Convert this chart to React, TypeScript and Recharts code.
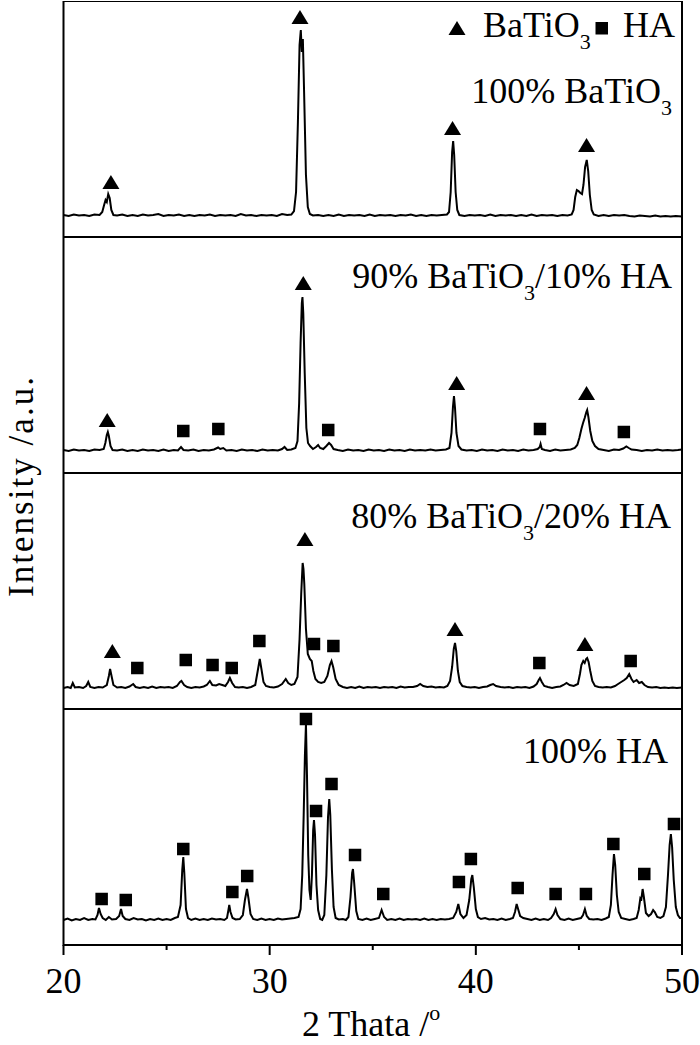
import { ComposedChart, Line, Scatter, XAxis, YAxis, ReferenceArea } from "recharts";

type Pt = [number, number];

// 2θ (deg) vs intensity (a.u.)
const bto100: Pt[] = [
  [20.0, 22], [20.25, 21], [20.5, 22.5], [20.75, 21.5], [21.0, 22], [21.25, 21], [21.5, 22.5], [21.75, 22],
  [21.88, 25], [21.97, 32], [22.04, 37], [22.1, 35], [22.17, 43], [22.24, 39], [22.32, 27], [22.42, 22],
  [22.6, 21.5], [22.85, 22.5], [23.1, 21], [23.35, 22], [23.6, 21], [23.85, 22.5], [24.1, 21.5], [24.35, 22],
  [24.6, 23], [24.85, 21], [25.1, 22], [25.35, 21.5], [25.6, 22.5], [25.85, 21], [26.1, 22], [26.35, 21],
  [26.6, 22], [26.85, 21.5], [27.1, 22.5], [27.35, 21], [27.6, 22], [27.85, 21.5], [28.1, 22], [28.35, 21],
  [28.6, 23], [28.85, 21.5], [29.1, 22], [29.35, 21], [29.6, 22], [29.85, 21.5], [30.1, 22], [30.35, 21],
  [30.6, 23], [30.85, 22], [31.05, 22.5], [31.18, 26], [31.28, 45], [31.37, 115], [31.45, 192], [31.51, 207],
  [31.56, 185], [31.61, 198], [31.67, 145], [31.76, 62], [31.85, 30], [31.95, 23], [32.1, 21.5], [32.35, 22],
  [32.6, 21], [32.85, 22], [33.1, 21], [33.35, 22.5], [33.6, 21], [33.85, 22], [34.1, 21.5], [34.35, 22],
  [34.6, 21], [34.85, 22.5], [35.1, 21], [35.35, 22], [35.6, 21.5], [35.85, 22], [36.1, 21], [36.35, 22],
  [36.6, 21.5], [36.85, 22.5], [37.1, 21], [37.35, 22], [37.6, 21], [37.85, 22], [38.1, 21.5], [38.35, 22],
  [38.6, 22.5], [38.7, 25], [38.78, 45], [38.85, 85], [38.9, 96], [38.95, 82], [39.02, 45], [39.1, 27],
  [39.2, 22], [39.45, 21], [39.7, 22], [39.95, 21.5], [40.2, 22], [40.45, 21], [40.7, 22.5], [40.95, 21],
  [41.2, 22], [41.45, 21.5], [41.7, 22], [41.95, 21], [42.2, 22], [42.45, 21], [42.7, 22.5], [42.95, 21],
  [43.2, 22], [43.45, 21.5], [43.7, 22], [43.95, 21], [44.2, 22], [44.45, 21.5], [44.65, 22.5], [44.74, 27],
  [44.82, 40], [44.9, 47], [44.98, 46], [45.07, 44], [45.15, 43], [45.22, 52], [45.3, 70], [45.38, 77],
  [45.45, 66], [45.53, 42], [45.62, 27], [45.72, 22.5], [45.95, 21], [46.2, 22], [46.45, 21], [46.7, 22],
  [46.95, 21.5], [47.2, 22], [47.45, 21], [47.7, 20.5], [47.95, 21.5], [48.2, 21], [48.45, 20.5], [48.7, 21.5],
  [48.95, 20.5], [49.2, 21], [49.45, 20.5], [49.7, 21], [50.0, 20.5],
];

const bto90: Pt[] = [
  [20.0, 23], [20.25, 22], [20.5, 23.5], [20.75, 22.5], [21.0, 23], [21.25, 22], [21.5, 23.5], [21.75, 23],
  [21.95, 24], [22.03, 30], [22.1, 38], [22.15, 41], [22.2, 37], [22.28, 27], [22.38, 23], [22.6, 22.5],
  [22.85, 23.5], [23.1, 22], [23.35, 23], [23.6, 22], [23.85, 23.5], [24.1, 22.5], [24.35, 23], [24.6, 22],
  [24.85, 23.5], [25.1, 22], [25.35, 23], [25.55, 22.5], [25.7, 26], [25.82, 23], [26.05, 22.5], [26.3, 23.5],
  [26.55, 22], [26.8, 23], [27.05, 22.5], [27.3, 23.5], [27.5, 25.5], [27.6, 24], [27.75, 25], [27.9, 22.5],
  [28.15, 23], [28.4, 22], [28.65, 23.5], [28.9, 22.5], [29.15, 23], [29.4, 22], [29.65, 23.5], [29.9, 22.5],
  [30.15, 23], [30.4, 22.5], [30.6, 24], [30.72, 26], [30.85, 23], [31.05, 23.5], [31.25, 25], [31.35, 32],
  [31.43, 70], [31.5, 130], [31.56, 170], [31.59, 176], [31.63, 160], [31.7, 100], [31.78, 45], [31.86, 30],
  [31.96, 27], [32.1, 24], [32.25, 26], [32.35, 28], [32.45, 25], [32.6, 24], [32.75, 27], [32.88, 30],
  [32.98, 28], [33.1, 24], [33.3, 23], [33.55, 22], [33.8, 23.5], [34.05, 22.5], [34.3, 23], [34.55, 22],
  [34.8, 23.5], [35.05, 22.5], [35.3, 23], [35.55, 22], [35.8, 23.5], [36.05, 22.5], [36.3, 23], [36.55, 22],
  [36.8, 23.5], [37.05, 22.5], [37.3, 23], [37.55, 22.5], [37.8, 23.5], [38.05, 22.5], [38.3, 23], [38.55, 23.5],
  [38.72, 25], [38.82, 40], [38.89, 66], [38.94, 77], [38.99, 65], [39.06, 40], [39.16, 27], [39.3, 23.5],
  [39.55, 22.5], [39.8, 23], [40.05, 22], [40.3, 23.5], [40.55, 22.5], [40.8, 23], [41.05, 22], [41.3, 23.5],
  [41.55, 22.5], [41.8, 23], [42.05, 22], [42.3, 23.5], [42.55, 22.5], [42.8, 23], [43.0, 24], [43.1, 26],
  [43.14, 29], [43.2, 24], [43.35, 23], [43.6, 22], [43.85, 23.5], [44.1, 22.5], [44.35, 23], [44.6, 23.5],
  [44.8, 25], [44.92, 28], [45.02, 35], [45.12, 44], [45.2, 50], [45.28, 55], [45.36, 61], [45.4, 63],
  [45.46, 56], [45.55, 42], [45.65, 32], [45.78, 27], [45.95, 24], [46.2, 23], [46.45, 22], [46.7, 23.5],
  [46.95, 23], [47.15, 24.5], [47.3, 26.5], [47.42, 25], [47.55, 23.5], [47.8, 23], [48.05, 22], [48.3, 23],
  [48.55, 22.5], [48.8, 23.5], [49.05, 22.5], [49.3, 23], [49.55, 22.5], [49.8, 23], [50.0, 23.5],
];

const bto80: Pt[] = [
  [20.0, 21], [20.2, 22], [20.35, 21], [20.45, 26], [20.55, 21.5], [20.75, 22], [20.95, 21], [21.1, 23],
  [21.2, 27], [21.3, 22], [21.5, 21], [21.7, 22], [21.9, 21.5], [22.1, 24], [22.2, 33], [22.26, 40],
  [22.32, 34], [22.42, 24], [22.6, 21.5], [22.8, 22], [23.0, 21], [23.2, 22.5], [23.38, 25], [23.5, 22],
  [23.7, 21], [23.9, 22], [24.1, 21], [24.3, 22.5], [24.5, 21], [24.7, 22], [24.9, 21.5], [25.1, 22],
  [25.3, 21], [25.5, 23], [25.65, 27], [25.72, 28], [25.85, 24], [26.0, 22], [26.2, 21], [26.4, 22],
  [26.6, 21.5], [26.8, 22.5], [26.95, 24], [27.1, 28], [27.22, 24], [27.4, 23.5], [27.55, 25], [27.7, 24],
  [27.85, 23], [27.98, 27], [28.07, 31], [28.18, 26], [28.32, 22], [28.5, 21.5], [28.7, 22], [28.9, 21],
  [29.1, 22], [29.3, 24], [29.42, 38], [29.52, 50], [29.6, 40], [29.7, 27], [29.82, 23], [30.0, 22],
  [30.2, 21.5], [30.4, 22.5], [30.6, 25], [30.78, 30], [30.9, 26], [31.05, 24], [31.2, 25], [31.35, 32],
  [31.45, 70], [31.53, 115], [31.6, 146], [31.64, 140], [31.68, 125], [31.76, 80], [31.85, 55], [31.95, 50],
  [32.04, 48], [32.12, 38], [32.22, 30], [32.35, 27], [32.5, 26], [32.65, 27], [32.8, 33], [32.92, 44],
  [33.0, 48], [33.08, 42], [33.2, 30], [33.35, 24], [33.55, 22], [33.75, 21], [33.95, 22], [34.15, 21],
  [34.35, 22.5], [34.55, 21], [34.75, 22], [34.95, 21.5], [35.15, 22], [35.35, 21], [35.55, 22], [35.75, 21.5],
  [35.95, 22], [36.15, 21], [36.35, 22.5], [36.55, 21.5], [36.75, 22], [36.95, 22], [37.15, 23], [37.3, 25],
  [37.45, 23], [37.65, 22], [37.85, 22.5], [38.05, 21.5], [38.25, 22], [38.45, 21.5], [38.62, 23], [38.75, 28],
  [38.85, 42], [38.93, 60], [38.99, 66], [39.05, 58], [39.13, 38], [39.22, 27], [39.35, 23], [39.55, 22],
  [39.75, 21.5], [39.95, 22], [40.15, 21], [40.35, 22], [40.55, 22.5], [40.7, 24], [40.84, 25], [40.98, 23],
  [41.2, 22], [41.4, 21.5], [41.6, 22], [41.8, 21], [42.0, 22], [42.2, 21.5], [42.4, 22], [42.6, 21],
  [42.8, 22.5], [42.95, 25], [43.05, 29], [43.11, 31], [43.2, 27], [43.32, 23], [43.5, 22], [43.7, 21],
  [43.9, 22], [44.1, 22.5], [44.25, 24], [44.4, 26], [44.55, 24], [44.75, 23], [44.95, 25], [45.05, 35],
  [45.12, 44], [45.21, 48], [45.28, 46], [45.35, 50], [45.4, 51], [45.47, 47], [45.55, 38], [45.65, 28],
  [45.78, 23], [45.95, 22], [46.15, 21.5], [46.35, 22], [46.55, 21.5], [46.75, 23], [46.9, 25], [47.05, 27],
  [47.2, 29], [47.32, 31], [47.44, 35], [47.55, 30], [47.65, 27], [47.8, 29], [47.92, 26], [48.05, 27],
  [48.18, 24], [48.35, 22], [48.55, 21.5], [48.75, 22], [48.95, 21], [49.15, 21.5], [49.35, 21], [49.55, 21.5],
  [49.75, 21], [50.0, 21.5],
];

const ha100: Pt[] = [
  [20.0, 25], [20.2, 26.5], [20.4, 24.5], [20.6, 26], [20.8, 25], [21.0, 27], [21.2, 25], [21.4, 26],
  [21.55, 25.5], [21.65, 30], [21.72, 37], [21.8, 31], [21.9, 27], [22.05, 25], [22.2, 28], [22.35, 25.5],
  [22.55, 26], [22.7, 29], [22.79, 36], [22.87, 29], [23.0, 26], [23.2, 25], [23.4, 27], [23.6, 25.5],
  [23.8, 26], [24.0, 24.5], [24.2, 26], [24.4, 25], [24.6, 26.5], [24.8, 25], [25.0, 26], [25.2, 25],
  [25.4, 27], [25.55, 28], [25.68, 40], [25.76, 75], [25.81, 88], [25.86, 72], [25.94, 36], [26.04, 27],
  [26.2, 25], [26.4, 26.5], [26.6, 25], [26.8, 26], [27.0, 25], [27.2, 26.5], [27.4, 25.5], [27.6, 26],
  [27.8, 25], [27.93, 27], [28.0, 35], [28.04, 40], [28.1, 33], [28.2, 27], [28.35, 25.5], [28.55, 26],
  [28.7, 30], [28.8, 45], [28.9, 56], [28.97, 47], [29.07, 31], [29.2, 26], [29.4, 25], [29.6, 26.5],
  [29.8, 25], [30.0, 26], [30.2, 25], [30.4, 26.5], [30.6, 25.5], [30.8, 26], [31.0, 26.5], [31.2, 27],
  [31.4, 28], [31.5, 36], [31.58, 70], [31.65, 130], [31.71, 190], [31.76, 221], [31.81, 170], [31.87, 90],
  [31.93, 55], [31.99, 45], [32.05, 70], [32.11, 115], [32.15, 125], [32.2, 110], [32.27, 60], [32.35, 35],
  [32.45, 26], [32.55, 25], [32.65, 30], [32.75, 70], [32.83, 128], [32.89, 146], [32.94, 130], [33.02, 75],
  [33.1, 38], [33.2, 27], [33.35, 25.5], [33.55, 26], [33.7, 25], [33.82, 28], [33.92, 48], [34.0, 72],
  [34.04, 76], [34.1, 62], [34.2, 34], [34.3, 26], [34.5, 25], [34.7, 26.5], [34.9, 25], [35.1, 26],
  [35.3, 27], [35.43, 35], [35.55, 28], [35.7, 25], [35.9, 26], [36.1, 25], [36.3, 26.5], [36.5, 25],
  [36.7, 26], [36.9, 25.5], [37.1, 26], [37.3, 25], [37.5, 26.5], [37.7, 25], [37.9, 26], [38.1, 25],
  [38.3, 26], [38.5, 25.5], [38.7, 26], [38.9, 27], [39.05, 33], [39.15, 41], [39.25, 31], [39.4, 27],
  [39.55, 30], [39.68, 45], [39.78, 66], [39.83, 70], [39.9, 58], [40.0, 36], [40.1, 28], [40.25, 26],
  [40.45, 27], [40.65, 25.5], [40.85, 26], [41.05, 25], [41.25, 26.5], [41.45, 25], [41.65, 26], [41.8, 27],
  [41.9, 33], [41.98, 41], [42.05, 36], [42.15, 29], [42.3, 27], [42.5, 26], [42.7, 25], [42.9, 26.5],
  [43.1, 25], [43.3, 26], [43.5, 25], [43.65, 27], [43.78, 31], [43.87, 36], [43.96, 30], [44.1, 26],
  [44.3, 25], [44.5, 26.5], [44.7, 25], [44.9, 26], [45.1, 27], [45.2, 30], [45.29, 36], [45.38, 29],
  [45.5, 26], [45.7, 25.5], [45.9, 26], [46.1, 25], [46.3, 26.5], [46.45, 28], [46.55, 40], [46.63, 70],
  [46.7, 91], [46.76, 80], [46.84, 50], [46.93, 33], [47.05, 27], [47.25, 26], [47.45, 25], [47.65, 26],
  [47.8, 27], [47.9, 35], [47.98, 47], [48.03, 46], [48.09, 56], [48.15, 48], [48.25, 32], [48.38, 29],
  [48.5, 31], [48.6, 35], [48.68, 33], [48.8, 28], [48.95, 27], [49.1, 29], [49.22, 38], [49.32, 70],
  [49.4, 100], [49.46, 111], [49.52, 98], [49.6, 65], [49.7, 38], [49.8, 30], [49.9, 27], [50.0, 27],
];

// phase markers (2θ, height) — ▲ BaTiO3, ■ HA
const bto100Tri: Pt[] = [[22.3, 55], [31.47, 220], [38.87, 109], [45.37, 92]];
const bto100Sq: Pt[] = [];
const bto90Tri: Pt[] = [[22.12, 53], [31.63, 190], [39.07, 90], [45.37, 80]];
const bto90Sq: Pt[] = [[25.81, 42], [27.51, 44], [32.84, 43], [43.11, 44], [47.18, 41]];
const bto80Tri: Pt[] = [[22.37, 58], [31.71, 170], [38.99, 80], [45.29, 65]];
const bto80Sq: Pt[] = [
  [23.58, 41], [25.93, 49], [27.23, 44], [28.16, 41], [29.5, 68], [32.15, 65], [33.09, 63], [43.08, 46], [47.51, 48],
];
const ha100Tri: Pt[] = [];
const ha100Sq: Pt[] = [
  [21.85, 46], [23.02, 45], [25.81, 96], [28.19, 53], [28.91, 69], [31.76, 226], [32.25, 134], [33.0, 161],
  [34.14, 90], [35.51, 51], [39.18, 63], [39.76, 86], [42.03, 57], [43.87, 51], [45.34, 51], [46.67, 101],
  [48.17, 71], [49.61, 121],
];

const xTicks = [20, 25, 30, 35, 40, 45, 50];

const FONT = "'Liberation Serif', 'Times New Roman', Times, serif";
const W = 700;
const PLOT_H = 236;
const X_AXIS_H = 100;
const MARGIN = { top: 0, right: 18, bottom: 0, left: 63.5 };

const rows = (pts: Pt[]) => pts.map(([t, i]) => ({ t, i }));

const Triangle = (props: any) => {
  const { cx, cy } = props;
  return <path d={`M${cx},${cy - 7}L${cx + 8.5},${cy + 7}L${cx - 8.5},${cy + 7}Z`} fill="#000" />;
};

const Square = (props: any) => {
  const { cx, cy } = props;
  return <rect x={cx - 6.25} y={cy - 6.25} width={12.5} height={12.5} fill="#000" />;
};

const AxisTick = (props: any) => {
  const { x, y, payload } = props;
  const major = payload.value % 10 === 0;
  return (
    <g>
      <line x1={x} x2={x} y1={y} y2={y + (major ? 10 : 5)} stroke="#000" strokeWidth={2} />
      {major && (
        <text
          x={x}
          y={y + 48}
          textAnchor="middle"
          fontSize={36}
          fontFamily="Liberation Serif"
          fill="#000"
          style={{ fontFamily: FONT }}
        >
          {payload.value}
        </text>
      )}
    </g>
  );
};

interface PanelProps {
  trace: Pt[];
  tri: Pt[];
  sq: Pt[];
  top: number;
  showAxis?: boolean;
}

const Panel = ({ trace, tri, sq, top, showAxis }: PanelProps) => (
  <div style={{ position: "absolute", left: 0, top }}>
    <ComposedChart
      width={W}
      height={PLOT_H + (showAxis ? X_AXIS_H : 0)}
      margin={MARGIN}
      style={{ fontFamily: FONT }}
    >
      <XAxis
        type="number"
        dataKey="t"
        domain={[20, 50]}
        ticks={xTicks}
        hide={!showAxis}
        height={X_AXIS_H}
        axisLine={false}
        tickLine={false}
        tickSize={0}
        tickMargin={0}
        tick={<AxisTick />}
        allowDataOverflow
      />
      <YAxis type="number" dataKey="i" domain={[0, PLOT_H]} hide allowDataOverflow />
      <Line
        data={rows(trace)}
        dataKey="i"
        type="linear"
        stroke="#000"
        strokeWidth={2}
        dot={false}
        isAnimationActive={false}
      />
      <Scatter data={rows(tri)} shape={<Triangle />} isAnimationActive={false} />
      <Scatter data={rows(sq)} shape={<Square />} isAnimationActive={false} />
      <ReferenceArea x1={20} x2={50} y1={0} y2={PLOT_H} fill="none" stroke="#000" strokeWidth={2} />
    </ComposedChart>
  </div>
);

const Sub = ({ children }: { children: string }) => (
  <tspan dy={12} fontSize={22}>
    {children}
  </tspan>
);

export default function App() {
  return (
    <div
      style={{
        position: "absolute",
        left: 0,
        top: 0,
        width: W,
        height: 1045,
        background: "#fff",
        fontFamily: FONT,
      }}
    >
      <Panel trace={bto100} tri={bto100Tri} sq={bto100Sq} top={1} />
      <Panel trace={bto90} tri={bto90Tri} sq={bto90Sq} top={237} />
      <Panel trace={bto80} tri={bto80Tri} sq={bto80Sq} top={473} />
      <Panel trace={ha100} tri={ha100Tri} sq={ha100Sq} top={709} showAxis />
      <svg
        width={W}
        height={1045}
        style={{ position: "absolute", left: 0, top: 0, pointerEvents: "none", fontFamily: FONT }}
        fill="#000"
      >
        {/* legend */}
        <path d="M457,21L465.5,35L448.5,35Z" />
        <text x={483} y={37} fontSize={36}>
          BaTiO<Sub>3</Sub>
        </text>
        <rect x={595.5} y={22} width={12.5} height={12.5} />
        <text x={623} y={37} fontSize={36}>
          HA
        </text>

        {/* panel labels */}
        <text x={672} y={103} fontSize={36} textAnchor="end">
          100% BaTiO<Sub>3</Sub>
        </text>
        <text x={672} y={288} fontSize={36} textAnchor="end">
          90% BaTiO<Sub>3</Sub>
          <tspan dy={-12}>/10% HA</tspan>
        </text>
        <text x={671} y={528} fontSize={36} textAnchor="end">
          80% BaTiO<Sub>3</Sub>
          <tspan dy={-12}>/20% HA</tspan>
        </text>
        <text x={668} y={763} fontSize={36} textAnchor="end">
          100% HA
        </text>

        {/* axis titles */}
        <text
          transform="translate(33,487) rotate(-90)"
          x={0}
          y={0}
          fontSize={35}
          fontFamily="Liberation Serif"
          textAnchor="middle"
          textLength={220}
          lengthAdjust="spacing"
        >
          Intensity /a.u.
        </text>
        <text x={302} y={1036} fontSize={36}>
          2 Thata /<tspan dy={-16} fontSize={22}>o</tspan>
        </text>
      </svg>
    </div>
  );
}
